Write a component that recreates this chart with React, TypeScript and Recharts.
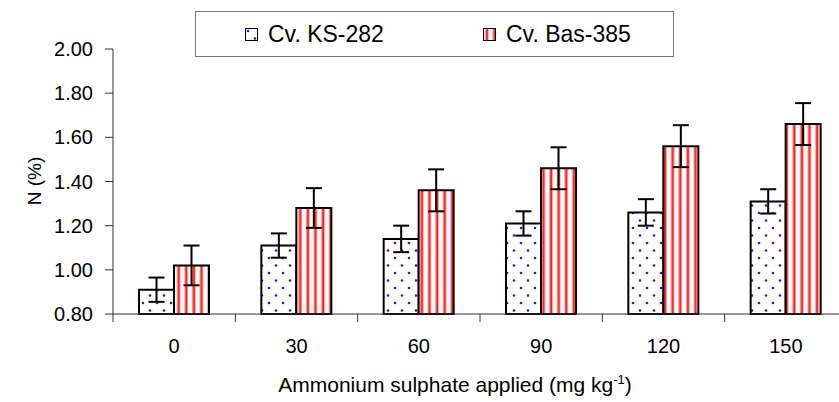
import React from 'react'
import { BarChart, Bar, XAxis, YAxis, ErrorBar, Legend, Label } from 'recharts'

const categories = ['0', '30', '60', '90', '120', '150']
const ks282 = [0.91, 1.11, 1.14, 1.21, 1.26, 1.31]
const ks282Err = [0.055, 0.055, 0.06, 0.055, 0.06, 0.055]
const bas385 = [1.02, 1.28, 1.36, 1.46, 1.56, 1.66]
const bas385Err = [0.09, 0.09, 0.095, 0.095, 0.095, 0.095]
const yTicks = [0.8, 1.0, 1.2, 1.4, 1.6, 1.8, 2.0]

const data = categories.map((c, i) => ({
  dose: c,
  ks: ks282[i],
  ksErr: ks282Err[i],
  bas: bas385[i],
  basErr: bas385Err[i],
}))

const FONT = '"Liberation Sans", Arial, sans-serif'
const AXIS = '#333'

function Patterns() {
  return (
    <svg width={0} height={0} style={{ position: 'absolute' }}>
      <defs>
        <pattern id='dots' patternUnits='userSpaceOnUse' width={14} height={15}>
          <rect width={14} height={15} fill='#fff' />
          <circle cx={3} cy={3} r={1.3} fill='#1a1aff' />
          <circle cx={10} cy={10.5} r={1.3} fill='#1a1aff' />
        </pattern>
        <pattern id='stripes' patternUnits='userSpaceOnUse' width={7.6} height={10}>
          <rect width={7.6} height={10} fill='#fff' />
          <rect x={2} width={1} height={10} fill='#ff9a9a' />
          <rect x={3} width={1.8} height={10} fill='#ff1a1a' />
          <rect x={4.8} width={1} height={10} fill='#ff9a9a' />
        </pattern>
      </defs>
    </svg>
  )
}

function XTick(props: any) {
  const { x, y, payload, index } = props
  const half = payload?.offset ?? 61
  const last = index === categories.length - 1
  return (
    <g>
      <line x1={x - half} y1={y} x2={x - half} y2={y + 8} stroke={AXIS} />
      {last && <line x1={x + half} y1={y} x2={x + half} y2={y + 8} stroke={AXIS} />}
      <text x={x} y={y + 39} textAnchor='middle' fontSize={20} fill='#000' fontFamily={FONT}>
        {payload.value}
      </text>
    </g>
  )
}

function LegendBox() {
  const item = (fill: string, label: string, left: number) => (
    <div style={{ position: 'absolute', left, top: 0, height: 44, display: 'flex', alignItems: 'center' }}>
      <svg width={13} height={13} style={{ marginRight: 10 }}>
        <rect x={0.5} y={0.5} width={12} height={12} fill={fill} stroke='#000' />
      </svg>
      <span style={{ fontSize: 23, fontFamily: FONT, color: '#000' }}>{label}</span>
    </div>
  )
  return (
    <div style={{ position: 'relative', width: 479, height: 46, border: '1.5px solid #777', boxSizing: 'border-box', background: '#fff' }}>
      {item('url(#dots)', 'Cv. KS-282', 49)}
      {item('url(#stripes)', 'Cv. Bas-385', 287)}
    </div>
  )
}

export default function App() {
  return (
    <div style={{ position: 'absolute', left: 0, top: 0, width: 839, height: 402, overflow: 'hidden', background: '#fff', fontFamily: FONT }}>
      <Patterns />
      <BarChart width={880} height={402} data={data} margin={{ top: 49, right: 33, bottom: 0, left: 0 }} barCategoryGap={26} barGap={0}>
        <XAxis dataKey='dose' height={88} tickLine={false} tickSize={0} tickMargin={0} tick={<XTick />} axisLine={{ stroke: AXIS }} interval={0}>
          <Label
            content={() => (
              <text x={455} y={392} textAnchor='middle' fontSize={21} fill='#000' fontFamily={FONT}>
                Ammonium sulphate applied (mg kg
                <tspan fontSize={13} dy={-8}>-1</tspan>
                <tspan dy={8}>)</tspan>
              </text>
            )}
          />
        </XAxis>
        <YAxis
          width={113}
          domain={[0.8, 2.0]}
          ticks={yTicks}
          tickFormatter={(v: number) => v.toFixed(2)}
          tickSize={8}
          tickMargin={12}
          tick={{ fontSize: 20, fill: '#000', fontFamily: FONT }}
          axisLine={{ stroke: AXIS }}
          tickLine={{ stroke: AXIS }}
        >
          <Label
            content={() => (
              <text x={36} y={181} transform='rotate(-90 36 181)' textAnchor='middle' dominantBaseline='middle' fontSize={19} fill='#000' fontFamily={FONT}>
                N (%)
              </text>
            )}
          />
        </YAxis>
        <Legend verticalAlign='middle' align='center' layout='horizontal' content={<LegendBox />} wrapperStyle={{ position: 'absolute', left: 195, top: 11, width: 479, height: 46 }} />
        <Bar dataKey='ks' name='Cv. KS-282' fill='url(#dots)' stroke='#000' strokeWidth={2} isAnimationActive={false}>
          <ErrorBar dataKey='ksErr' width={8} stroke='#000' strokeWidth={2} direction='y' />
        </Bar>
        <Bar dataKey='bas' name='Cv. Bas-385' fill='url(#stripes)' stroke='#000' strokeWidth={2} isAnimationActive={false}>
          <ErrorBar dataKey='basErr' width={8} stroke='#000' strokeWidth={2} direction='y' />
        </Bar>
      </BarChart>
    </div>
  )
}
